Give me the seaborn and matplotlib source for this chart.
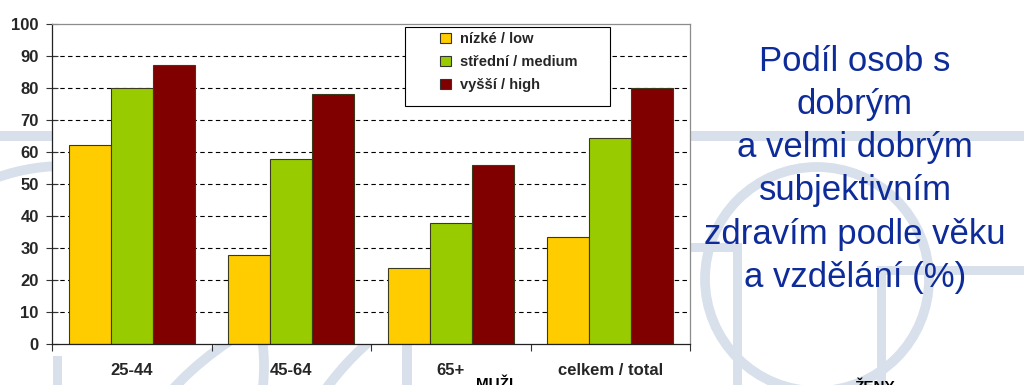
import numpy as np
import pandas as pd
import matplotlib
matplotlib.use("Agg")
import matplotlib.pyplot as plt
import seaborn as sns
from matplotlib.patches import Rectangle, Circle, Patch, Arc

# ---- data ----
categories = ["25-44", "45-64", "65+", "celkem / total"]
education = ["nízké / low", "střední / medium", "vyšší / high"]
low = [62.3, 27.8, 23.8, 33.3]
medium = [80.0, 57.7, 37.9, 64.4]
high = [87.2, 78.1, 55.8, 80.0]
yticks = list(range(0, 101, 10))
colors = ["#FFCC00", "#99CC00", "#800000"]
title_lines = ["Podíl osob s", "dobrým", "a velmi dobrým", "subjektivním",
               "zdravím podle věku", "a vzdělání (%)"]

df = pd.DataFrame({
    "category": categories * 3,
    "education": [education[0]] * 4 + [education[1]] * 4 + [education[2]] * 4,
    "value": low + medium + high,
})

sns.set_theme(style="white")
plt.rcParams["font.family"] = ["Liberation Sans", "DejaVu Sans"]

W, H = 1024, 385
fig = plt.figure(figsize=(W / 100, H / 100), dpi=100)
fig.patch.set_facecolor("white")

# ---- faint watermark background ----
bg = fig.add_axes([0, 0, 1, 1], zorder=0)
bg.set_xlim(0, W)
bg.set_ylim(H, 0)
bg.axis("off")
wm = "#D8E0EC"
bg.add_patch(Rectangle((0, 131), W, 10, color=wm, lw=0))
bg.add_patch(Circle((64, 366), 200, fill=False, ec=wm, lw=7))
bg.add_patch(Circle((817, 279), 112, fill=False, ec=wm, lw=7))
bg.add_patch(Rectangle((690, 243), 52, 9, color=wm, lw=0))
bg.add_patch(Rectangle((733, 243), 9, 150, color=wm, lw=0))
bg.add_patch(Rectangle((877, 266), 147, 9, color=wm, lw=0))
bg.add_patch(Rectangle((877, 266), 9, 130, color=wm, lw=0))
bg.add_patch(Rectangle((53, 356), 9, 40, color=wm, lw=0))
bg.add_patch(Rectangle((402, 345), 10, 50, color=wm, lw=0))
bg.add_patch(Arc((560, 560), 580, 580, theta1=205, theta2=240, ec=wm, lw=7))
bg.add_patch(Arc((400, 600), 620, 620, theta1=215, theta2=240, ec=wm, lw=7))

# ---- main chart ----
ax = fig.add_axes([52 / W, 1 - 344 / H, 638 / W, 320 / H], zorder=1)
ax.set_facecolor("white")
sns.barplot(data=df, x="category", y="value", hue="education",
            order=categories, hue_order=education,
            palette=dict(zip(education, colors)), width=0.79, gap=0,
            saturation=1, edgecolor="#3a3a1c", linewidth=0.8,
            legend=False, ax=ax)

ax.set_xlim(-0.5, 3.5)
ax.set_ylim(0, 100)
ax.set_xlabel("")
ax.set_ylabel("")

ax.set_yticks(yticks)
ax.set_yticklabels([str(v) for v in yticks], fontweight="bold", fontsize=12)
ax.tick_params(axis="y", which="major", direction="inout", length=9,
               width=0.8, color="#333333", pad=5, left=True)

ax.set_xticks(range(len(categories)))
ax.set_xticklabels(categories, fontweight="bold", fontsize=12)
ax.tick_params(axis="x", which="major", length=0, pad=14)
ax.set_xticks(np.arange(-0.5, len(categories), 1.0), minor=True)
ax.tick_params(axis="x", which="minor", direction="out", length=5,
               width=0.8, color="#333333", bottom=True)

ax.yaxis.grid(True, linestyle=(0, (4, 3)), color="black", linewidth=0.8)
ax.set_axisbelow(True)
gl = ax.yaxis.get_gridlines()
gl[0].set_visible(False)
gl[-1].set_visible(False)

for s in ["left", "bottom"]:
    ax.spines[s].set_color("#222222")
    ax.spines[s].set_linewidth(0.9)
for s in ["top", "right"]:
    ax.spines[s].set_color("#8c8c8c")
    ax.spines[s].set_linewidth(0.9)
    ax.spines[s].set_visible(True)

# ---- legend ----
frame = Rectangle((405 / W, 1 - 106 / H), 205 / W, 79 / H,
                  transform=fig.transFigure, facecolor="white",
                  edgecolor="black", lw=0.8, zorder=2)
fig.add_artist(frame)
handles = [Patch(facecolor=c, edgecolor="#333333", lw=0.8) for c in colors]
leg = fig.legend(handles, education, loc="upper left",
                 bbox_to_anchor=(440 / W, 1 - 32 / H),
                 bbox_transform=fig.transFigure, frameon=False,
                 prop={"weight": "bold", "size": 10.5},
                 handlelength=0.75, handleheight=0.75, handletextpad=0.6,
                 labelspacing=0.62, borderpad=0, borderaxespad=0)
leg.set_zorder(3)

# ---- title on the right ----
baselines = [71, 114, 157, 200, 244, 287]
for line, yb in zip(title_lines, baselines):
    fig.text(855 / W, 1 - yb / H, line, ha="center", va="baseline",
             fontsize=25, color="#0E2C99")

fig.text(495 / W, 1 - 377 / H, "MUŽI", ha="center", va="top",
         fontsize=11, fontweight="bold", color="black")
fig.text(875 / W, 1 - 380 / H, "ŽENY", ha="center", va="top",
         fontsize=11, fontweight="bold", color="black")

fig.savefig("out.png", dpi=100, facecolor="white")
